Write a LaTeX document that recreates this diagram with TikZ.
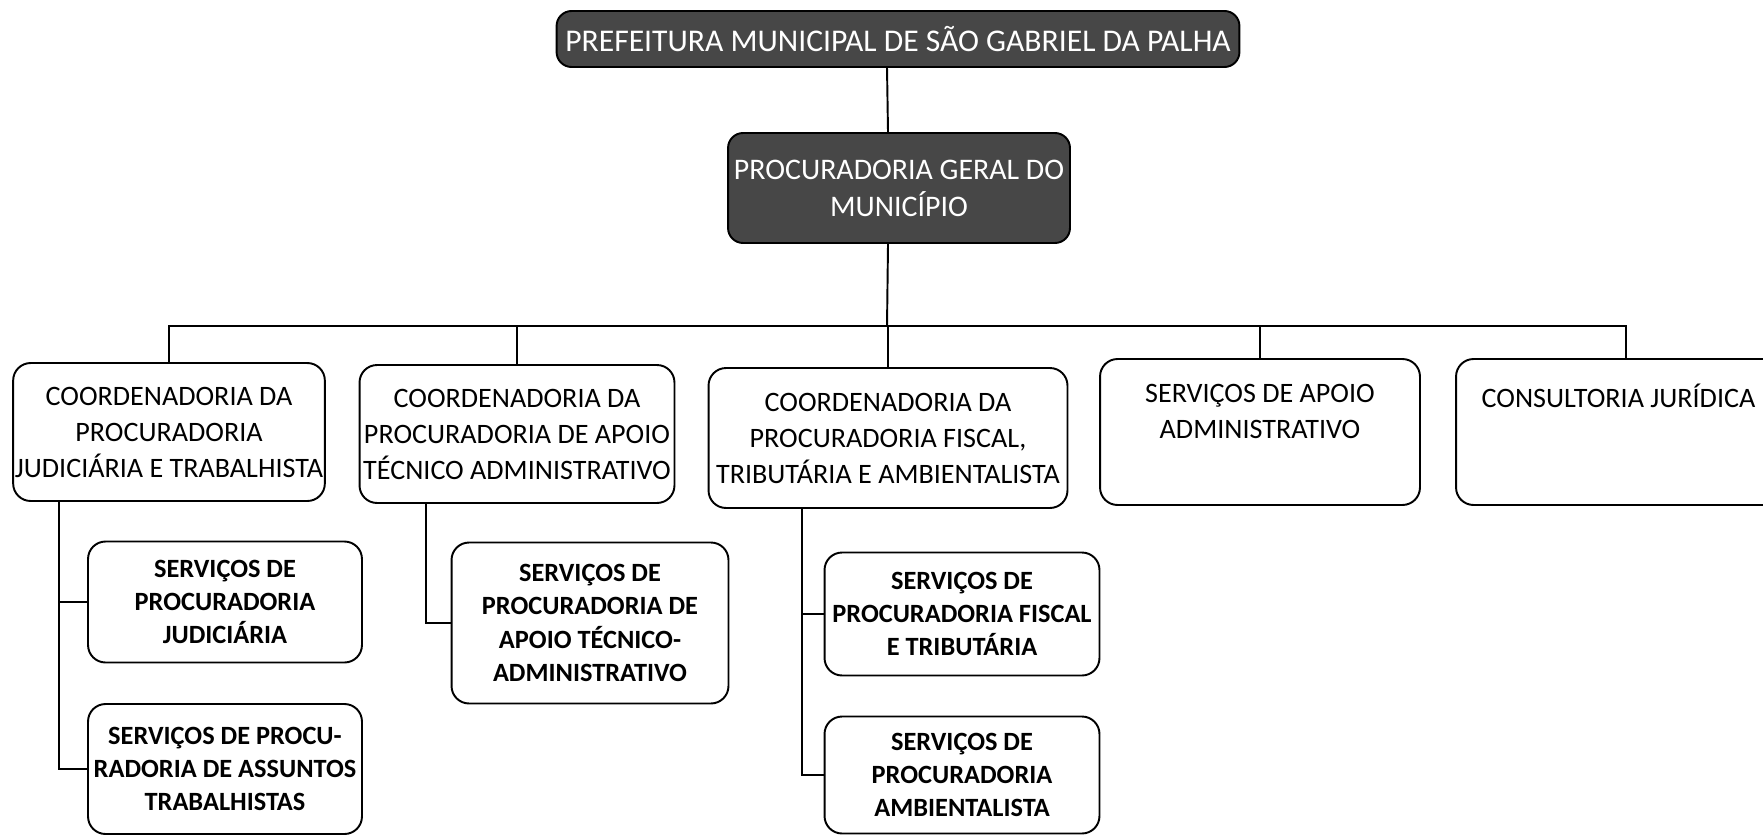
\documentclass[tikz,border=0pt]{standalone}
\usepackage{fontspec}
\setmainfont{Carlito}
\usepackage{tikz}
\usetikzlibrary{positioning}
\tikzstyle{dark} = [rectangle, rounded corners=0.3cm, fill=black!72, draw=black, line width=1.1pt, text=white, align=center, font=\fontsize{17}{21}\selectfont]
\tikzstyle{box} = [rectangle, rounded corners=0.35cm, draw=black, line width=1.1pt, align=center, inner sep=1pt, font=\fontsize{16}{20.5}\selectfont]
\tikzstyle{sub} = [rectangle, rounded corners=0.35cm, draw=black, line width=1.1pt, align=center, inner sep=1pt, font=\fontsize{15}{19}\selectfont\bfseries]
\tikzstyle{txt} = [align=center, font=\fontsize{16}{20.5}\selectfont]
\tikzstyle{line} = [line width=1.1pt]

\begin{document}
\begin{tikzpicture}[x=0.02cm, y=-0.02cm]
\useasboundingbox (0,0) rectangle (1763,835);
\node (pref) [dark, minimum width=13.66cm, minimum height=1.12cm, font=\fontsize{18}{22}\selectfont] at (898,39) {PREFEITURA MUNICIPAL DE SÃO GABRIEL DA PALHA};
\node (pgm) [dark, minimum width=6.84cm, minimum height=2.2cm] at (899,188) {PROCURADORIA GERAL DO\\MUNICÍPIO};
\coordinate (bus) at (887,326);

\node (judic) [box, minimum width=6.18cm, minimum height=2.76cm] at (169,432) {COORDENADORIA DA\\PROCURADORIA\\JUDICIÁRIA E TRABALHISTA};
\node (tecad) [box, minimum width=6.3cm, minimum height=2.76cm] at (517,434) {COORDENADORIA DA\\PROCURADORIA DE APOIO\\TÉCNICO ADMINISTRATIVO};
\node (fiscal) [box, minimum width=7.18cm, minimum height=2.8cm] at (888,438) {COORDENADORIA DA\\PROCURADORIA FISCAL,\\TRIBUTÁRIA E AMBIENTALISTA};
\node (apoio) [box, minimum width=6.4cm, minimum height=2.92cm, label={[txt, anchor=north, yshift=-0.4cm]north:{SERVIÇOS DE APOIO\\ADMINISTRATIVO}}] at (1260,432) {};
\node (consult) [box, minimum width=6.8cm, minimum height=2.92cm, label={[txt, anchor=north, yshift=-0.4cm, xshift=-0.15cm]north:{CONSULTORIA JURÍDICA}}] at (1626,432) {};

\node (sjudic) [sub, minimum width=5.48cm, minimum height=2.42cm] at (225,602) {SERVIÇOS DE\\PROCURADORIA\\JUDICIÁRIA};
\node (strab) [sub, minimum width=5.48cm, minimum height=2.6cm] at (225,769) {SERVIÇOS DE PROCU-\\RADORIA DE ASSUNTOS\\TRABALHISTAS};
\node (stecad) [sub, minimum width=5.54cm, minimum height=3.22cm] at (590,623) {SERVIÇOS DE\\PROCURADORIA DE\\APOIO TÉCNICO-\\ADMINISTRATIVO};
\node (sfiscal) [sub, minimum width=5.5cm, minimum height=2.46cm] at (962,614) {SERVIÇOS DE\\PROCURADORIA FISCAL\\E TRIBUTÁRIA};
\node (samb) [sub, minimum width=5.5cm, minimum height=2.34cm] at (962,775) {SERVIÇOS DE\\PROCURADORIA\\AMBIENTALISTA};

\draw [line] ([xshift=-0.22cm]pref.south) -- ([xshift=-0.22cm]pgm.north);
\draw [line] ([xshift=-0.22cm]pgm.south) -- (bus);
\draw [line] (judic.north) |- (bus);
\draw [line] (consult.north) |- (bus);
\draw [line] (tecad.north) -- (tecad.north |- bus);
\draw [line] (fiscal.north) -- (fiscal.north |- bus);
\draw [line] (apoio.north) -- (apoio.north |- bus);
\draw [line] (judic.south west) ++(47,0) |- (sjudic.west);
\draw [line] (judic.south west) ++(47,0) |- (strab.west);
\draw [line] (tecad.south west) ++(67,0) |- (stecad.west);
\draw [line] (fiscal.south west) ++(94,0) |- (sfiscal.west);
\draw [line] (fiscal.south west) ++(94,0) |- (samb.west);
\end{tikzpicture}
\end{document}
